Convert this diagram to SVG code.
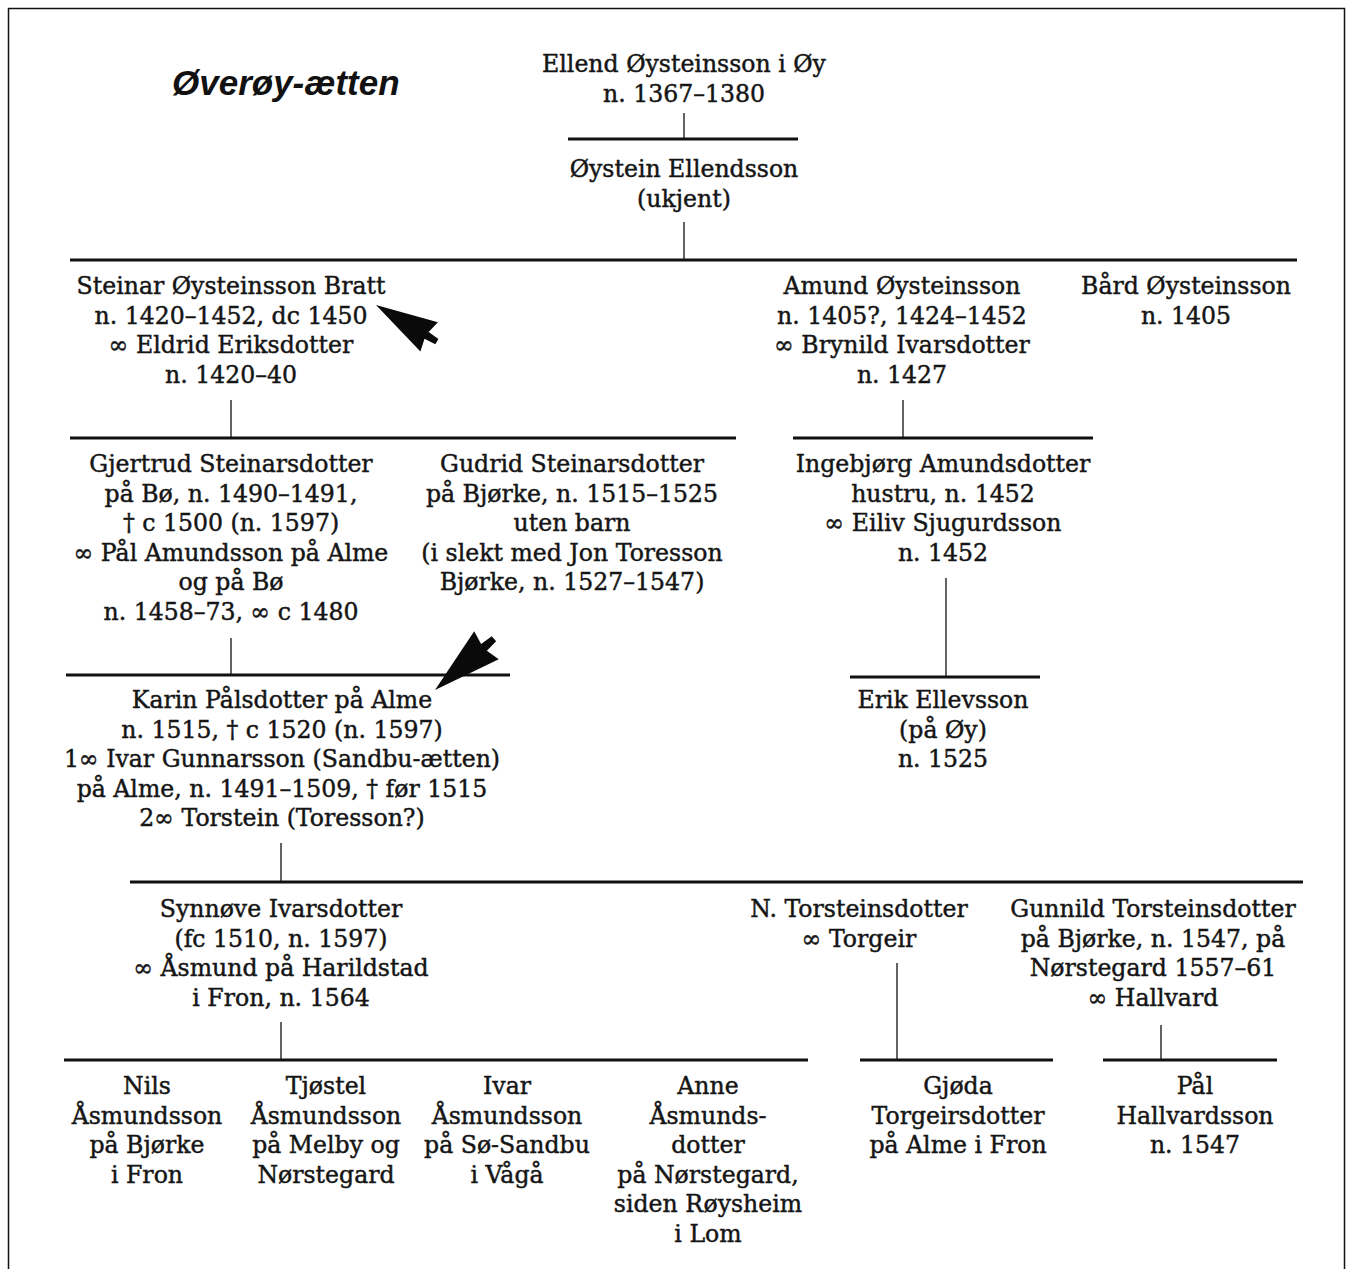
<svg xmlns="http://www.w3.org/2000/svg" xmlns:xlink="http://www.w3.org/1999/xlink" width="1347" height="1269" viewBox="0 0 1347 1269">
<style>
text.n{font-family:"DejaVu Serif","Liberation Serif",serif;font-size:23.6px;fill:#151515;stroke:#151515;stroke-width:0.45;text-anchor:middle}
.h{stroke:#111;stroke-width:3;fill:none}
.v{stroke:#222;stroke-width:1.4;fill:none}
.title{font-family:"Liberation Sans",Arial,sans-serif;font-weight:bold;font-style:italic;font-size:35px;fill:#111}
</style>
<defs>
<path id="arrowShape" d="M0,0 L62,-17 L59,-4 L71,-3 L71,3 L59,4 L62,17 Z" fill="#0a0a0a"/>
</defs>
<rect x="0" y="0" width="1347" height="1269" fill="#fff"/>
<rect x="8.5" y="8.5" width="1336" height="1275" fill="none" stroke="#111" stroke-width="1.5"/>
<text class="title" x="172" y="95">Øverøy-ætten</text>

<g id="connectors">
<line class="v" x1="684" y1="113" x2="684" y2="138"/>
<line class="h" x1="568" y1="139" x2="798" y2="139"/>
<line class="v" x1="684" y1="222" x2="684" y2="259"/>
<line class="h" x1="70" y1="260" x2="1297" y2="260"/>
<line class="v" x1="231" y1="400" x2="231" y2="437"/>
<line class="h" x1="70" y1="438" x2="736" y2="438"/>
<line class="v" x1="903" y1="400" x2="903" y2="437"/>
<line class="h" x1="793" y1="438" x2="1093" y2="438"/>
<line class="v" x1="231" y1="638" x2="231" y2="674"/>
<line class="h" x1="66" y1="675" x2="510" y2="675"/>
<line class="v" x1="946" y1="578" x2="946" y2="676"/>
<line class="h" x1="850" y1="677" x2="1040" y2="677"/>
<line class="v" x1="281" y1="843" x2="281" y2="881"/>
<line class="h" x1="130" y1="882" x2="1303" y2="882"/>
<line class="v" x1="281" y1="1022" x2="281" y2="1059"/>
<line class="h" x1="64" y1="1060" x2="808" y2="1060"/>
<line class="v" x1="897" y1="963" x2="897" y2="1059"/>
<line class="h" x1="860" y1="1060" x2="1053" y2="1060"/>
<line class="v" x1="1161" y1="1025" x2="1161" y2="1059"/>
<line class="h" x1="1103" y1="1060" x2="1277" y2="1060"/>
</g>

<g id="arrows">
<use xlink:href="#arrowShape" transform="translate(376,305) rotate(31)"/>
<use xlink:href="#arrowShape" transform="translate(435,690) rotate(-41) scale(1.1)"/>
</g>

<g id="ellend"><text class="n" y="72"><tspan x="684">Ellend Øysteinsson i Øy</tspan><tspan x="684" dy="29.6">n. 1367–1380</tspan></text></g>
<g id="oystein"><text class="n" y="177"><tspan x="684">Øystein Ellendsson</tspan><tspan x="684" dy="29.6">(ukjent)</tspan></text></g>

<g id="steinar"><text class="n" y="294"><tspan x="231">Steinar Øysteinsson Bratt</tspan><tspan x="231" dy="29.6">n. 1420–1452, dc 1450</tspan><tspan x="231" dy="29.6">∞ Eldrid Eriksdotter</tspan><tspan x="231" dy="29.6">n. 1420–40</tspan></text></g>
<g id="amund"><text class="n" y="294"><tspan x="902">Amund Øysteinsson</tspan><tspan x="902" dy="29.6">n. 1405?, 1424–1452</tspan><tspan x="902" dy="29.6">∞ Brynild Ivarsdotter</tspan><tspan x="902" dy="29.6">n. 1427</tspan></text></g>
<g id="bard"><text class="n" y="294"><tspan x="1186">Bård Øysteinsson</tspan><tspan x="1186" dy="29.6">n. 1405</tspan></text></g>

<g id="gjertrud"><text class="n" y="472"><tspan x="231">Gjertrud Steinarsdotter</tspan><tspan x="231" dy="29.6">på Bø, n. 1490–1491,</tspan><tspan x="231" dy="29.6">† c 1500 (n. 1597)</tspan><tspan x="231" dy="29.6">∞ Pål Amundsson på Alme</tspan><tspan x="231" dy="29.6">og på Bø</tspan><tspan x="231" dy="29.6">n. 1458–73, ∞ c 1480</tspan></text></g>
<g id="gudrid"><text class="n" y="472"><tspan x="572">Gudrid Steinarsdotter</tspan><tspan x="572" dy="29.6">på Bjørke, n. 1515–1525</tspan><tspan x="572" dy="29.6">uten barn</tspan><tspan x="572" dy="29.6">(i slekt med Jon Toresson</tspan><tspan x="572" dy="29.6">Bjørke, n. 1527–1547)</tspan></text></g>
<g id="ingebjorg"><text class="n" y="472"><tspan x="943">Ingebjørg Amundsdotter</tspan><tspan x="943" dy="29.6">hustru, n. 1452</tspan><tspan x="943" dy="29.6">∞ Eiliv Sjugurdsson</tspan><tspan x="943" dy="29.6">n. 1452</tspan></text></g>

<g id="karin"><text class="n" y="708"><tspan x="282">Karin Pålsdotter på Alme</tspan><tspan x="282" dy="29.6">n. 1515, † c 1520 (n. 1597)</tspan><tspan x="282" dy="29.6">1∞ Ivar Gunnarsson (Sandbu-ætten)</tspan><tspan x="282" dy="29.6">på Alme, n. 1491–1509, † før 1515</tspan><tspan x="282" dy="29.6">2∞ Torstein (Toresson?)</tspan></text></g>
<g id="erik"><text class="n" y="708"><tspan x="943">Erik Ellevsson</tspan><tspan x="943" dy="29.6">(på Øy)</tspan><tspan x="943" dy="29.6">n. 1525</tspan></text></g>

<g id="synnove"><text class="n" y="917"><tspan x="281">Synnøve Ivarsdotter</tspan><tspan x="281" dy="29.6">(fc 1510, n. 1597)</tspan><tspan x="281" dy="29.6">∞ Åsmund på Harildstad</tspan><tspan x="281" dy="29.6">i Fron, n. 1564</tspan></text></g>
<g id="ntorsteinsdotter"><text class="n" y="917"><tspan x="859">N. Torsteinsdotter</tspan><tspan x="859" dy="29.6">∞ Torgeir</tspan></text></g>
<g id="gunnild"><text class="n" y="917"><tspan x="1153">Gunnild Torsteinsdotter</tspan><tspan x="1153" dy="29.6">på Bjørke, n. 1547, på</tspan><tspan x="1153" dy="29.6">Nørstegard 1557–61</tspan><tspan x="1153" dy="29.6">∞ Hallvard</tspan></text></g>

<g id="nils"><text class="n" y="1094"><tspan x="147">Nils</tspan><tspan x="147" dy="29.6">Åsmundsson</tspan><tspan x="147" dy="29.6">på Bjørke</tspan><tspan x="147" dy="29.6">i Fron</tspan></text></g>
<g id="tjostel"><text class="n" y="1094"><tspan x="326">Tjøstel</tspan><tspan x="326" dy="29.6">Åsmundsson</tspan><tspan x="326" dy="29.6">på Melby og</tspan><tspan x="326" dy="29.6">Nørstegard</tspan></text></g>
<g id="ivar"><text class="n" y="1094"><tspan x="507">Ivar</tspan><tspan x="507" dy="29.6">Åsmundsson</tspan><tspan x="507" dy="29.6">på Sø-Sandbu</tspan><tspan x="507" dy="29.6">i Vågå</tspan></text></g>
<g id="anne"><text class="n" y="1094"><tspan x="708">Anne</tspan><tspan x="708" dy="29.6">Åsmunds-</tspan><tspan x="708" dy="29.6">dotter</tspan><tspan x="708" dy="29.6">på Nørstegard,</tspan><tspan x="708" dy="29.6">siden Røysheim</tspan><tspan x="708" dy="29.6">i Lom</tspan></text></g>
<g id="gjoda"><text class="n" y="1094"><tspan x="958">Gjøda</tspan><tspan x="958" dy="29.6">Torgeirsdotter</tspan><tspan x="958" dy="29.6">på Alme i Fron</tspan></text></g>
<g id="pal"><text class="n" y="1094"><tspan x="1195">Pål</tspan><tspan x="1195" dy="29.6">Hallvardsson</tspan><tspan x="1195" dy="29.6">n. 1547</tspan></text></g>
</svg>
